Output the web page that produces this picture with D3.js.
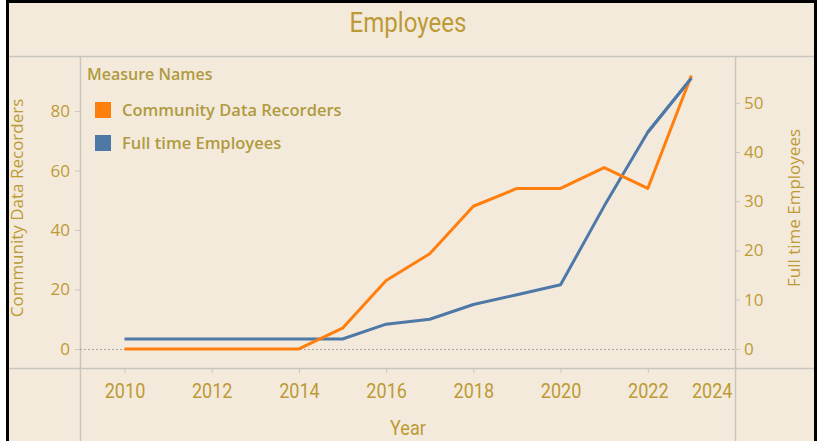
<!DOCTYPE html>
<html>
<head>
<meta charset="utf-8">
<script src="https://cdn.jsdelivr.net/npm/d3@7/dist/d3.min.js"></script>
<style>
  html, body { margin: 0; padding: 0; background: #ffffff; }
  svg { display: block; }
</style>
</head>
<body>
<svg id="chart" width="820" height="441"></svg>
<script>
// ---- data ----
const years = [2010, 2011, 2012, 2013, 2014, 2015, 2016, 2017, 2018, 2019, 2020, 2021, 2022, 2023];
const communityDataRecorders = [0, 0, 0, 0, 0, 7, 23, 32, 48, 54, 54, 61, 54, 92];
const fullTimeEmployees = [2, 2, 2, 2, 2, 2, 5, 6, 9, 11, 13, 29, 44, 55];
const xTicks = [2010, 2012, 2014, 2016, 2018, 2020, 2022, 2024];
const leftTicks = [0, 20, 40, 60, 80];
const rightTicks = [0, 10, 20, 30, 40, 50];
const seriesNames = ["Community Data Recorders", "Full time Employees"];
const seriesColors = ["#FF7F0E", "#4E79A7"];

// ---- style ----
const bg = "#F4EADC";
const gold = "#BC9A35";
const legendText = "#B09A40";
const gridGrey = "#C9C6C0";
const narrow = "Roboto, 'Open Sans', sans-serif";
const book = "'Open Sans', 'Noto Sans', sans-serif";

const svg = d3.select("#chart");
const W = 820, H = 441;

// frame
svg.append("rect").attr("x", 6).attr("y", 0).attr("width", 811).attr("height", H).attr("fill", bg);
svg.append("rect").attr("x", 6).attr("y", 0).attr("width", 3).attr("height", H).attr("fill", "#000");
svg.append("rect").attr("x", 6).attr("y", 0).attr("width", 811).attr("height", 3).attr("fill", "#000");
svg.append("rect").attr("x", 814).attr("y", 0).attr("width", 3).attr("height", H).attr("fill", "#000");

// plot geometry
const pl = 80, pr = 735, pt = 57, pb = 368;

const x = d3.scaleLinear().domain([2008.98, 2024]).range([pl, pr]);
const yL = d3.scaleLinear().domain([-6.4, 98.2]).range([pb, pt]);
const yR = d3.scaleLinear().domain([-3.9, 59.3]).range([pb, pt]);

// title
svg.append("text").attr("transform", "translate(408,32) scale(0.86,1)").attr("text-anchor", "middle")
  .attr("font-family", narrow).attr("font-size", 28).attr("fill", gold).text("Employees");

// separators
svg.append("line").attr("x1", 9).attr("x2", 814).attr("y1", 56.5).attr("y2", 56.5)
  .attr("stroke", gridGrey).attr("stroke-width", 1.5);
svg.append("line").attr("x1", 9).attr("x2", 814).attr("y1", pb + 0.5).attr("y2", pb + 0.5)
  .attr("stroke", gridGrey).attr("stroke-width", 1.5);
svg.append("line").attr("x1", pl + 0.5).attr("x2", pl + 0.5).attr("y1", 56).attr("y2", H)
  .attr("stroke", gridGrey).attr("stroke-width", 1.5);
svg.append("line").attr("x1", pr + 0.5).attr("x2", pr + 0.5).attr("y1", 56).attr("y2", H)
  .attr("stroke", gridGrey).attr("stroke-width", 1.5);

// zero line (dotted)
svg.append("line").attr("x1", pl).attr("x2", pr).attr("y1", Math.round(yL(0)) + 0.5).attr("y2", Math.round(yL(0)) + 0.5)
  .attr("stroke", "#A8A6A0").attr("stroke-width", 1).attr("stroke-dasharray", "2,2");

// left axis
const gL = svg.append("g").attr("transform", `translate(${pl},0)`)
  .call(d3.axisLeft(yL).tickValues(leftTicks).tickSize(5).tickPadding(5));
gL.select(".domain").remove();
gL.selectAll(".tick line").attr("stroke", gridGrey);
gL.selectAll(".tick text").attr("fill", gold).attr("font-family", book).attr("font-size", 17);

// right axis
const gR = svg.append("g").attr("transform", `translate(${pr},0)`)
  .call(d3.axisRight(yR).tickValues(rightTicks).tickSize(5).tickPadding(4));
gR.select(".domain").remove();
gR.selectAll(".tick line").attr("stroke", gridGrey);
gR.selectAll(".tick text").attr("fill", gold).attr("font-family", book).attr("font-size", 17);

// bottom axis
const gX = svg.append("g").attr("transform", `translate(0,${pb})`)
  .call(d3.axisBottom(x).tickValues(xTicks).tickFormat(d3.format("d")).tickSize(5).tickPadding(0));
gX.select(".domain").remove();
gX.selectAll(".tick line").attr("stroke", gridGrey);
gX.selectAll(".tick text").attr("fill", gold).attr("font-family", narrow).attr("font-size", 21)
  .attr("dy", null).attr("y", null).attr("transform", "translate(0,30) scale(0.86,1)");
// keep last label inside the pane
gX.selectAll(".tick").filter(d => d === 2024).select("text").attr("text-anchor", "end").attr("transform", "translate(-3,30) scale(0.86,1)");
gX.selectAll(".tick").filter(d => d === 2024).select("line").remove();

// axis titles
svg.append("text").attr("transform", "translate(408,435) scale(0.86,1)").attr("text-anchor", "middle")
  .attr("font-family", narrow).attr("font-size", 21).attr("fill", gold).text("Year");
svg.append("text").attr("transform", "translate(23,208) rotate(-90)").attr("text-anchor", "middle")
  .attr("font-family", book).attr("font-size", 17).attr("fill", gold).text("Community Data Recorders");
svg.append("text").attr("transform", "translate(800,208) rotate(-90)").attr("text-anchor", "middle")
  .attr("font-family", book).attr("font-size", 17).attr("fill", gold).text("Full time Employees");

// lines
svg.append("clipPath").attr("id", "pane").append("rect")
  .attr("x", pl).attr("y", pt - 5).attr("width", pr - pl).attr("height", pb - pt + 5);

const lineL = d3.line().x((d, i) => x(years[i])).y(d => yL(d));
const lineR = d3.line().x((d, i) => x(years[i])).y(d => yR(d));

const gLines = svg.append("g").attr("clip-path", "url(#pane)");
gLines.append("path").datum(fullTimeEmployees).attr("d", lineR)
  .attr("fill", "none").attr("stroke", seriesColors[1]).attr("stroke-width", 3).attr("stroke-linejoin", "round");
gLines.append("path").datum(communityDataRecorders).attr("d", lineL)
  .attr("fill", "none").attr("stroke", seriesColors[0]).attr("stroke-width", 3).attr("stroke-linejoin", "round");
gLines.append("path").datum(fullTimeEmployees.slice(-2)).attr("d", d3.line().x((d, i) => x(years[years.length - 2 + i])).y(d => yR(d)))
  .attr("fill", "none").attr("stroke", seriesColors[1]).attr("stroke-width", 3);

// legend
svg.append("text").attr("x", 87).attr("y", 80).attr("font-family", book).attr("font-size", 16).attr("font-weight", 600)
  .attr("fill", legendText).text("Measure Names");
const leg = svg.append("g");
seriesNames.forEach((name, i) => {
  const yy = 102 + i * 33;
  leg.append("rect").attr("x", 95).attr("y", yy).attr("width", 16).attr("height", 16).attr("fill", seriesColors[i]);
  leg.append("text").attr("x", 122).attr("y", yy + 14).attr("font-family", book).attr("font-size", 16.5).attr("font-weight", 600)
    .attr("fill", legendText).text(name);
});
</script>
</body>
</html>
